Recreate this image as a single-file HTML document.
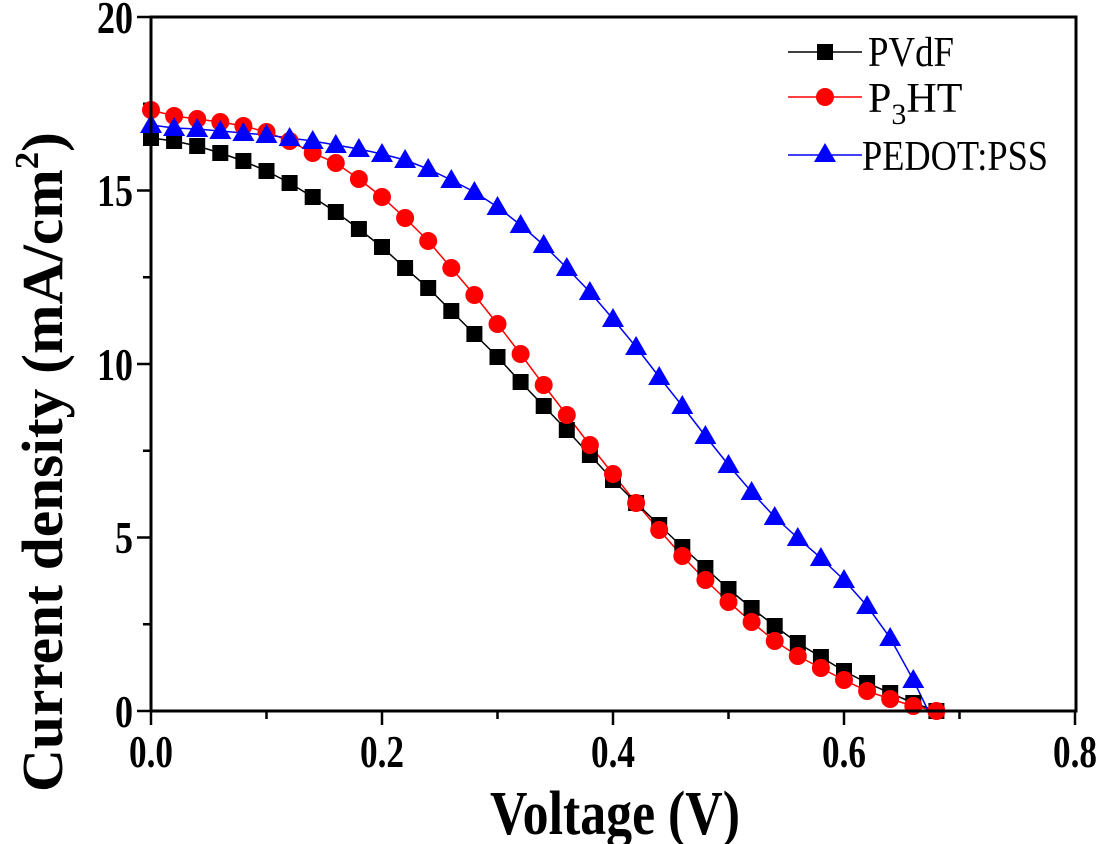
<!DOCTYPE html>
<html><head><meta charset="utf-8"><style>body{margin:0;background:#fff}svg{display:block}</style></head>
<body>
<svg id="s" width="1102" height="844" xmlns="http://www.w3.org/2000/svg" font-family="Liberation Serif, serif">
<rect width="1102" height="844" fill="#fff"/>
<g id="plot"></g>
<rect x="151" y="17" width="925" height="694" fill="none" stroke="#000" stroke-width="3"/>
<g font-weight="bold" font-size="46" text-anchor="middle">
<text x="151" y="767" textLength="44" lengthAdjust="spacingAndGlyphs">0.0</text>
<text x="382" y="767" textLength="44" lengthAdjust="spacingAndGlyphs">0.2</text>
<text x="613" y="767" textLength="44" lengthAdjust="spacingAndGlyphs">0.4</text>
<text x="844" y="767" textLength="44" lengthAdjust="spacingAndGlyphs">0.6</text>
<text x="1075" y="767" textLength="44" lengthAdjust="spacingAndGlyphs">0.8</text>
</g>
<g font-weight="bold" font-size="46" text-anchor="end">
<text x="133" y="727" textLength="18" lengthAdjust="spacingAndGlyphs">0</text>
<text x="133" y="553" textLength="18" lengthAdjust="spacingAndGlyphs">5</text>
<text x="133" y="380" textLength="36" lengthAdjust="spacingAndGlyphs">10</text>
<text x="133" y="206" textLength="36" lengthAdjust="spacingAndGlyphs">15</text>
<text x="133" y="33" textLength="36" lengthAdjust="spacingAndGlyphs">20</text>
</g>
<text x="615" y="834" font-weight="bold" font-size="62" text-anchor="middle" textLength="250" lengthAdjust="spacingAndGlyphs">Voltage (V)</text>
<text transform="translate(62,462) rotate(-90)" font-weight="bold" font-size="58" text-anchor="middle" textLength="660" lengthAdjust="spacingAndGlyphs">Current density (mA/cm<tspan font-size="34" dy="-24">2</tspan><tspan dy="24">)</tspan></text>
<g stroke-width="1.5">
<line x1="788" y1="52" x2="862" y2="52" stroke="#000"/>
<rect x="817" y="44" width="16" height="16" fill="#000"/>
<line x1="788" y1="97" x2="862" y2="97" stroke="#f00"/>
<circle cx="825" cy="97" r="9" fill="#f00"/>
<line x1="788" y1="155" x2="862" y2="155" stroke="#00f"/>
<polygon points="825,143 836,162 814,162" fill="#00f"/>
</g>
<g font-size="42">
<text x="868" y="66" textLength="86" lengthAdjust="spacingAndGlyphs">PVdF</text>
<text x="868" y="112">P<tspan font-size="30" dy="12">3</tspan><tspan dy="-12">HT</tspan></text>
<text x="862" y="170" textLength="186" lengthAdjust="spacingAndGlyphs">PEDOT:PSS</text>
</g>
</svg>
<script>
const g=document.getElementById('plot'),NS='http://www.w3.org/2000/svg';
function el(t,a){const e=document.createElementNS(NS,t);for(const k in a)e.setAttribute(k,a[k]);g.appendChild(e);return e;}
for(let i=0;i<=8;i++){const x=151+i*115.5;el('line',{x1:x,y1:711,x2:x,y2:i%2?719:725,stroke:'#000','stroke-width':2.5});}
for(let i=0;i<=8;i++){const y=711-i*86.75;el('line',{x1:151,y1:y,x2:i%2?143:137,y2:y,stroke:'#000','stroke-width':2.5});}
const P=[138,141,146,153,161,171,183,197,212,229,247,268,288,311,334,357,382,406,430,455,480,503,525,547,568,589,608,626,643,657,671,683,693,703,711];
const R=[110,116,119,122,126,132,141,153,163,179,197,218,241,268,295,324,354,385,415,445,474,503,530,556,580,602,622,641,656,668,680,691,699,706,711];
const B=[125,128,129,131,133,135,138,141,145,149,154,160,169,180,192,207,225,245,268,292,319,347,377,406,436,465,492,517,538,558,580,606,638,680];
const X=i=>151+i*23.1;
function line(arr,c,extra){let pts=arr.map((y,i)=>X(i)+','+y);if(extra)pts.push(extra);el('polyline',{points:pts.join(' '),fill:'none',stroke:c,'stroke-width':1.5});}
line(P,'#000');line(R,'#f00');line(B,'#00f',(151+0.673*1155)+',711');
P.forEach((y,i)=>el('rect',{x:X(i)-8,y:y-8,width:16,height:16,fill:'#000'}));
R.forEach((y,i)=>el('circle',{cx:X(i),cy:y,r:9,fill:'#f00'}));
B.forEach((y,i)=>el('polygon',{points:`${X(i)},${y-11} ${X(i)+11},${y+8} ${X(i)-11},${y+8}`,fill:'#00f'}));
</script>
</body></html>
